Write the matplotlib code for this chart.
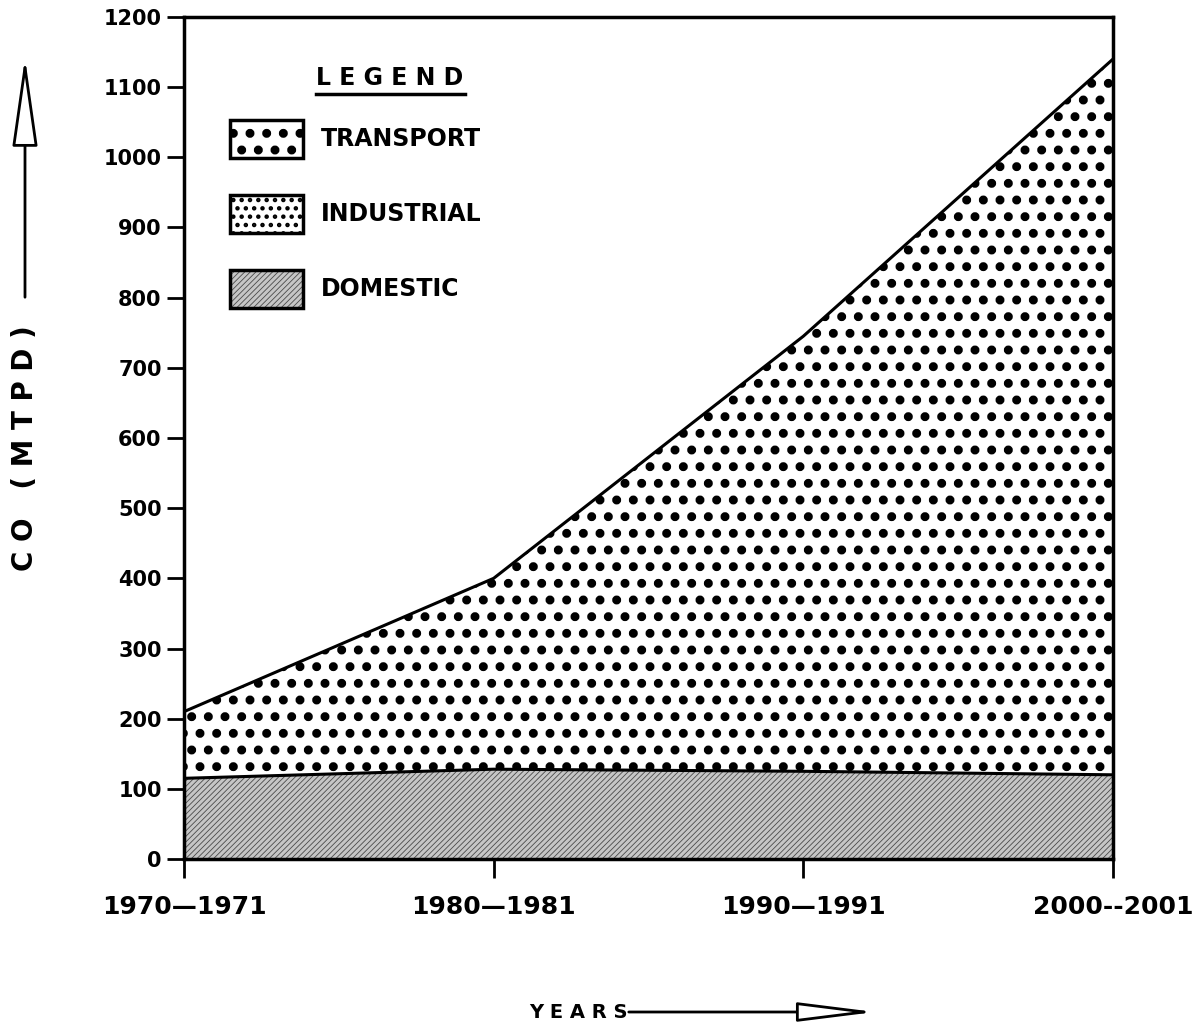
import matplotlib
matplotlib.use("Agg")
import matplotlib.pyplot as plt
import numpy as np
from matplotlib.patches import Rectangle, FancyArrowPatch
from matplotlib.lines import Line2D

# data (CO, MTPD)
years = ["1970\u20141971", "1980\u20141981", "1990\u20141991", "2000--2001"]
domestic = [115, 128, 125, 120]
industrial = [0, 0, 0, 0]
transport = [95, 272, 620, 1020]
yticks = list(range(0, 1300, 100))

plt.rcParams['font.family'] = ['DejaVu Sans']

x = np.arange(len(years))
d = np.array(domestic)
i = d + np.array(industrial)
t = i + np.array(transport)

fig = plt.figure(figsize=(12.04, 10.29), dpi=100)
ax = fig.add_axes([0.1528, 0.1652, 0.7716, 0.8183])

DOM = dict(fc='#c6c6c6', ec='#4a4a4a', hatch='//////', hl=0.6)
IND = dict(fc='white', ec='black', hatch='..', hl=2.0)
TRA = dict(fc='white', ec='black', hatch='.', hl=4.0)

with plt.rc_context({'hatch.linewidth': DOM['hl']}):
    ax.fill_between(x, 0, d, facecolor=DOM['fc'], edgecolor=DOM['ec'],
                    hatch=DOM['hatch'], linewidth=0)
with plt.rc_context({'hatch.linewidth': IND['hl']}):
    ax.fill_between(x, d, i, facecolor=IND['fc'], edgecolor=IND['ec'],
                    hatch=IND['hatch'], linewidth=0)
with plt.rc_context({'hatch.linewidth': TRA['hl']}):
    ax.fill_between(x, i, t, facecolor=TRA['fc'], edgecolor=TRA['ec'],
                    hatch=TRA['hatch'], linewidth=0)

ax.plot(x, d, color='black', lw=2.2)
ax.plot(x, t, color='black', lw=2.2)

ax.set_xlim(0, 3)
ax.set_ylim(0, 1200)
ax.set_yticks(yticks)
ax.set_yticklabels([str(v) for v in yticks], fontsize=15, fontweight='bold')
ax.set_xticks(x)
ax.set_xticklabels(years, fontsize=18, fontweight='bold')
ax.tick_params(axis='y', direction='out', length=12, width=2, pad=4)
ax.tick_params(axis='x', direction='out', length=14, width=2, pad=12)
for s in ax.spines.values():
    s.set_linewidth(2.5)

# legend drawn by hand
ax.text(0.142, 0.9275, "L E G E N D", transform=ax.transAxes, fontsize=17,
        fontweight='bold', ha='left', va='center')
ax.add_line(Line2D([0.142, 0.303], [0.908, 0.908], transform=ax.transAxes,
                   color='black', lw=2.5))
entries = [("TRANSPORT", TRA, 0.855), ("INDUSTRIAL", IND, 0.766), ("DOMESTIC", DOM, 0.677)]
for name, st, yc in entries:
    with plt.rc_context({'hatch.linewidth': st['hl']}):
        r = Rectangle((0.0495, yc - 0.0225), 0.0786, 0.045, transform=ax.transAxes,
                      facecolor=st['fc'], edgecolor=st['ec'], hatch=st['hatch'], linewidth=0)
    ax.add_patch(r)
    ax.add_patch(Rectangle((0.0495, yc - 0.0225), 0.0786, 0.045, transform=ax.transAxes,
                           facecolor='none', edgecolor='black', linewidth=2.5))
    ax.text(0.147, yc, name, transform=ax.transAxes, fontsize=17, fontweight='bold',
            ha='left', va='center')

# axis titles with arrows
fig.text(25 / 1204, 1 - 448 / 1029, "C O   ( M T P D )", rotation=90, fontsize=20,
         fontweight='bold', ha='center', va='center')
fig.add_artist(FancyArrowPatch((25 / 1204, 1 - 300 / 1029), (25 / 1204, 1 - 55 / 1029),
                               transform=fig.transFigure,
                               arrowstyle='-|>,head_length=28,head_width=4',
                               mutation_scale=2, facecolor='white', edgecolor='black', lw=2))
fig.text(578 / 1204, 1 - 1012 / 1029, "Y E A R S", fontsize=14, fontweight='bold',
         ha='center', va='center')
fig.add_artist(FancyArrowPatch((626 / 1204, 1 - 1012 / 1029), (878 / 1204, 1 - 1012 / 1029),
                               transform=fig.transFigure,
                               arrowstyle='-|>,head_length=24,head_width=3',
                               mutation_scale=2, facecolor='white', edgecolor='black', lw=2))

fig.savefig("out.png", dpi=100)
